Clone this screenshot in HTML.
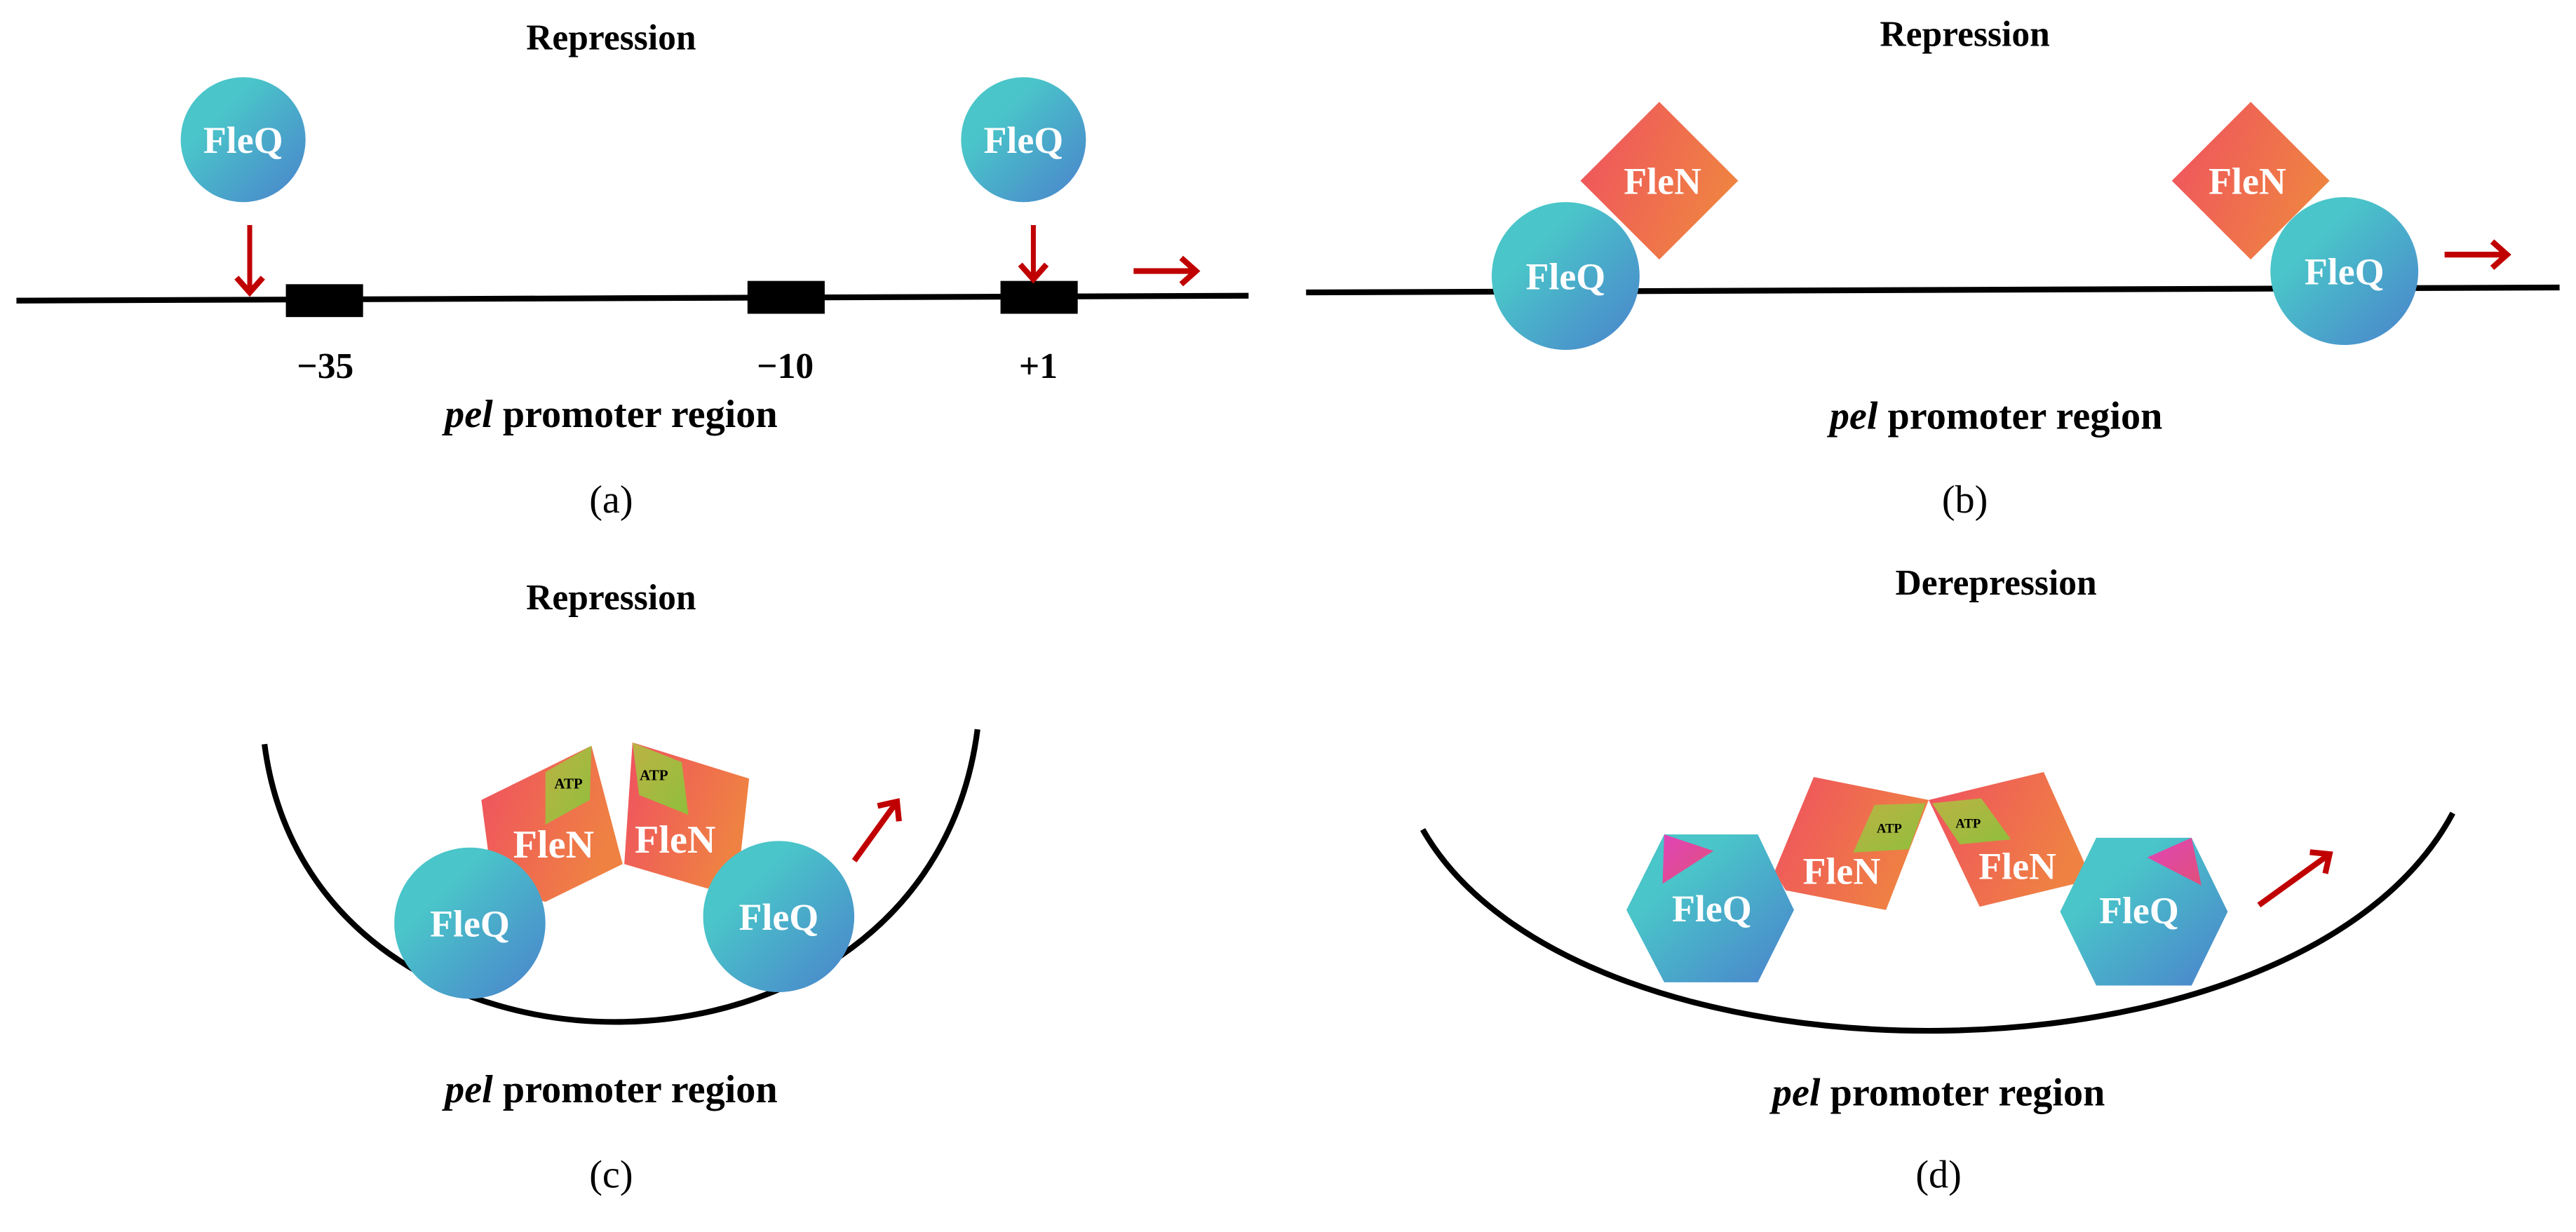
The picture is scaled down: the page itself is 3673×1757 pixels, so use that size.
<!DOCTYPE html>
<html><head><meta charset="utf-8"><style>
html,body{margin:0;padding:0;background:#fff}
svg{display:block}
text{font-family:"Liberation Serif",serif;}
</style></head><body>
<svg width="3673" height="1757" viewBox="0 0 1568 750" xmlns="http://www.w3.org/2000/svg">
<defs>
<linearGradient id="q" x1="0" y1="0" x2="1" y2="1"><stop offset="0.3" stop-color="#4ac5c9"/><stop offset="1" stop-color="#4a82cc"/></linearGradient>
<linearGradient id="n" x1="0" y1="0" x2="1" y2="0.4"><stop offset="0" stop-color="#ef5060"/><stop offset="1" stop-color="#ef8242"/></linearGradient>
<linearGradient id="a" x1="0" y1="0" x2="1" y2="1"><stop offset="0" stop-color="#bcb244"/><stop offset="1" stop-color="#8fbf3c"/></linearGradient>
<linearGradient id="p" x1="0" y1="0" x2="1" y2="1"><stop offset="0" stop-color="#e044b8"/><stop offset="1" stop-color="#e0507a"/></linearGradient>
<marker id="ah" markerWidth="18" markerHeight="20" refX="13" refY="10" orient="auto" markerUnits="userSpaceOnUse"><path d="M4,2 L13,10 L4,18" fill="none" stroke="#c00000" stroke-width="3.5"/></marker>
</defs>
<g font-weight="bold" text-anchor="middle">
<!-- (a) -->
<text x="372" y="30" font-size="22">Repression</text>
<path d="M10,183 L760,180" stroke="#000" stroke-width="3.5"/>
<rect x="174" y="173" width="47" height="20"/>
<rect x="455" y="171" width="47" height="20"/>
<rect x="609" y="171" width="47" height="20"/>
<circle cx="148" cy="85" r="38" fill="url(#q)"/>
<circle cx="623" cy="85" r="38" fill="url(#q)"/>
<text x="148" y="93" font-size="23" fill="#fff">FleQ</text>
<text x="623" y="93" font-size="23" fill="#fff">FleQ</text>
<path d="M152,137 L152,178" stroke="#c00000" stroke-width="3" marker-end="url(#ah)"/>
<path d="M629,137 L629,170" stroke="#c00000" stroke-width="3" marker-end="url(#ah)"/>
<path d="M690,165 L728,165" stroke="#c00000" stroke-width="3.5" marker-end="url(#ah)"/>
<text x="198" y="230" font-size="22">−35</text>
<text x="478" y="230" font-size="22">−10</text>
<text x="632" y="230" font-size="22">+1</text>
<text x="372" y="260" font-size="24"><tspan font-style="italic">pel</tspan> promoter region</text>
<text x="372" y="312" font-size="24" font-weight="normal">(a)</text>
<!-- (b) -->
<text x="1196" y="28" font-size="22">Repression</text>
<path d="M795,178 L1558,175" stroke="#000" stroke-width="3.5"/>
<path d="M1010,62 L1058,110 L1010,158 L962,110Z" fill="url(#n)"/>
<path d="M1370,62 L1418,110 L1370,158 L1322,110Z" fill="url(#n)"/>
<text x="1012" y="118" font-size="23" fill="#fff">FleN</text>
<text x="1368" y="118" font-size="23" fill="#fff">FleN</text>
<circle cx="953" cy="168" r="45" fill="url(#q)"/>
<circle cx="1427" cy="165" r="45" fill="url(#q)"/>
<text x="953" y="176" font-size="23" fill="#fff">FleQ</text>
<text x="1427" y="173" font-size="23" fill="#fff">FleQ</text>
<path d="M1488,155 L1526,155" stroke="#c00000" stroke-width="3.5" marker-end="url(#ah)"/>
<text x="1215" y="261" font-size="24"><tspan font-style="italic">pel</tspan> promoter region</text>
<text x="1196" y="312" font-size="24" font-weight="normal">(b)</text>
<!-- (c) -->
<text x="372" y="371" font-size="22">Repression</text>
<path d="M161,453 C190,680 565,680 595,444" fill="none" stroke="#000" stroke-width="3.5"/>
<path d="M293,487 L360,454 L379,526 L332,549 L300,540Z" fill="url(#n)"/>
<path d="M385,452 L456,474 L451,519 L431,541 L380,526Z" fill="url(#n)"/>
<path d="M332,470 L360,454 L359,487 L332,502Z" fill="url(#a)"/>
<path d="M385,452 L415,464 L419,496 L389,484Z" fill="url(#a)"/>
<text x="346" y="480" font-size="9" fill="#000">ATP</text>
<text x="398" y="475" font-size="9" fill="#000">ATP</text>
<text x="337" y="522" font-size="24" fill="#fff">FleN</text>
<text x="411" y="519" font-size="24" fill="#fff">FleN</text>
<circle cx="286" cy="562" r="46" fill="url(#q)"/>
<circle cx="474" cy="558" r="46" fill="url(#q)"/>
<text x="286" y="570" font-size="23" fill="#fff">FleQ</text>
<text x="474" y="566" font-size="23" fill="#fff">FleQ</text>
<path d="M520,524 L546,488" stroke="#c00000" stroke-width="3.5" marker-end="url(#ah)"/>
<text x="372" y="671" font-size="24"><tspan font-style="italic">pel</tspan> promoter region</text>
<text x="372" y="723" font-size="24" font-weight="normal">(c)</text>
<!-- (d) -->
<text x="1215" y="362" font-size="22">Derepression</text>
<path d="M866,505 C960,670 1400,670 1493,495" fill="none" stroke="#000" stroke-width="3.5"/>
<path d="M1104,473 L1174,487 L1148,554 L1087,542 L1080,531Z" fill="url(#n)"/>
<path d="M1174,487 L1244,470 L1270,528 L1263,538 L1205,552Z" fill="url(#n)"/>
<path d="M1141,490 L1172,489 L1162,517 L1128,519Z" fill="url(#a)"/>
<path d="M1176,489 L1206,486 L1224,511 L1193,514Z" fill="url(#a)"/>
<text x="1150" y="507" font-size="8" fill="#000">ATP</text>
<text x="1198" y="504" font-size="8" fill="#000">ATP</text>
<text x="1121" y="538" font-size="23" fill="#fff">FleN</text>
<text x="1228" y="535" font-size="23" fill="#fff">FleN</text>
<path d="M1013,508 L1070,508 L1092,554 L1070,598 L1013,598 L990,554Z" fill="url(#q)"/>
<path d="M1276,510 L1334,510 L1356,555 L1334,600 L1276,600 L1254,555Z" fill="url(#q)"/>
<path d="M1013,508 L1043,518 L1012,538Z" fill="url(#p)"/>
<path d="M1334,510 L1307,522 L1340,539Z" fill="url(#p)"/>
<text x="1042" y="561" font-size="23" fill="#fff">FleQ</text>
<text x="1302" y="562" font-size="23" fill="#fff">FleQ</text>
<path d="M1375,551 L1418,520" stroke="#c00000" stroke-width="3.5" marker-end="url(#ah)"/>
<text x="1180" y="673" font-size="24"><tspan font-style="italic">pel</tspan> promoter region</text>
<text x="1180" y="723" font-size="24" font-weight="normal">(d)</text>
</g>
</svg>
</body></html>
